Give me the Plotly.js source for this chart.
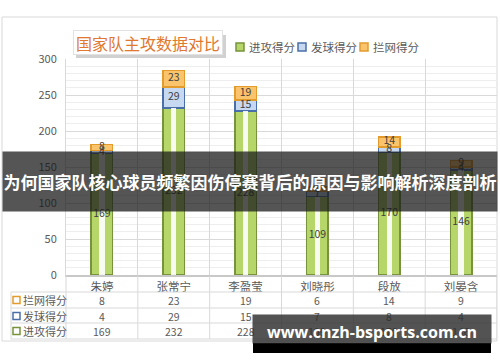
<!DOCTYPE html>
<html>
<head>
<meta charset="utf-8">
<script src="https://cdn.plot.ly/plotly-3.0.1.min.js"></script>
<style>html,body{margin:0;padding:0;background:#fff;}#chart{width:500px;height:362px;}</style>
</head>
<body>
<div id="chart"></div>
<script>
// ---- data ----
const players = ['朱婷', '张常宁', '李盈莹', '刘晓彤', '段放', '刘晏含'];
const attack = [169, 232, 228, 109, 170, 146];
const serve = [4, 29, 15, 7, 8, 4];
const block = [8, 23, 19, 6, 14, 9];
const seriesNames = ['进攻得分', '发球得分', '拦网得分'];
const chartTitle = '国家队主攻数据对比';
const bannerText = '为何国家队核心球员频繁因伤停赛背后的原因与影响解析深度剖析';
const watermarkText = 'www.cnzh-bsports.com.cn';
const yTicks = [0, 50, 100, 150, 200, 250, 300];

// ---- styles ----
const fills = ['#b7d66a', '#c6d9f1', '#fac46d'];
const borders = ['#77933c', '#4a6fa8', '#e39b2c'];
const FONT = '"Noto Sans CJK SC", "Noto Sans", sans-serif';
const L = 66, T = 59, PW = 431, PH = 216;
const X = px => (px - L) / PW;
const Y = py => (T + PH - py) / PH;

const series = [attack, serve, block];
const traces = series.map((vals, k) => ({
  type: 'bar', name: seriesNames[k], x: players, y: vals,
  marker: {color: fills[k], line: {color: borders[k], width: 1.5}},
  hoverinfo: 'skip'
}));
// white highlight stripe on attack bars
traces.push({
  type: 'bar', x: players, y: attack, xaxis: 'x2', yaxis: 'y2', width: 0.075,
  marker: {color: 'rgba(255,255,255,0.9)', line: {width: 0}}, hoverinfo: 'skip', showlegend: false
});
// data labels
const lx = [], ly = [], lt = [];
players.forEach((p, i) => {
  let base = 0;
  series.forEach(vals => {
    lx.push(p); ly.push(base + vals[i] / 2); lt.push(String(vals[i]));
    base += vals[i];
  });
});
traces.push({
  type: 'scatter', mode: 'text', x: lx, y: ly, text: lt, xaxis: 'x2', yaxis: 'y2',
  textfont: {family: FONT, size: 10.5, color: '#404040'}, cliponaxis: false, hoverinfo: 'skip', showlegend: false
});

const shapes = [];
const annotations = [];
// outer frame
shapes.push({type: 'rect', xref: 'paper', yref: 'paper', x0: X(2), x1: X(497), y0: Y(17), y1: Y(341),
  line: {color: '#d9d9d9', width: 1}, layer: 'below'});
// title shadow
shapes.push({type: 'rect', xref: 'paper', yref: 'paper', x0: X(76), x1: X(226), y0: Y(35), y1: Y(58),
  fillcolor: 'rgba(0,0,0,0.18)', line: {width: 0}});
// table grid
[292, 308, 323, 339].forEach(py => shapes.push({type: 'line', xref: 'paper', yref: 'paper',
  x0: X(11), x1: X(497), y0: Y(py), y1: Y(py), line: {color: '#d9d9d9', width: 1}}));
shapes.push({type: 'line', xref: 'paper', yref: 'paper', x0: X(11), x1: X(11), y0: Y(292), y1: Y(339),
  line: {color: '#d9d9d9', width: 1}});
shapes.push({type: 'line', xref: 'paper', yref: 'paper', x0: 0, x1: 0, y0: Y(275), y1: Y(339),
  line: {color: '#d9d9d9', width: 1}});
players.forEach((p, i) => shapes.push({type: 'line', xref: 'x', yref: 'paper', x0: i + 0.5, x1: i + 0.5,
  y0: Y(276), y1: Y(339), line: {color: '#d9d9d9', width: 1}}));

// title
annotations.push({text: chartTitle, xref: 'paper', yref: 'paper', x: X(148), y: Y(43),
  xanchor: 'center', yanchor: 'middle', showarrow: false, width: 146, height: 21, borderpad: 1,
  bgcolor: '#ffffff', bordercolor: '#e2e2e2', borderwidth: 1,
  font: {family: FONT, size: 16, color: '#e0782f'}});

// custom legend
const legX = [240, 302, 364];
seriesNames.forEach((n, k) => {
  shapes.push({type: 'rect', xref: 'paper', yref: 'paper', x0: X(legX[k] - 4), x1: X(legX[k] + 4),
    y0: Y(43), y1: Y(51), fillcolor: fills[k], line: {color: borders[k], width: 1.5}});
  annotations.push({text: n, xref: 'paper', yref: 'paper', x: X(legX[k] + 7), y: Y(47),
    xanchor: 'left', yanchor: 'middle', showarrow: false,
    font: {family: FONT, size: 11.5, color: '#595959'}});
});

// table rows (top to bottom: block, serve, attack)
const rowY = [300, 316, 331];
const rowSeries = [2, 1, 0];
rowSeries.forEach((k, r) => {
  shapes.push({type: 'rect', xref: 'paper', yref: 'paper', x0: X(13), x1: X(20),
    y0: Y(rowY[r] - 3.5), y1: Y(rowY[r] + 3.5), fillcolor: '#ffffff', line: {color: borders[k], width: 1.5}});
  annotations.push({text: seriesNames[k], xref: 'paper', yref: 'paper', x: X(21), y: Y(rowY[r]),
    xanchor: 'left', yanchor: 'middle', showarrow: false,
    font: {family: FONT, size: 11, color: '#595959'}});
  players.forEach((p, i) => annotations.push({text: String(series[k][i]), xref: 'x', yref: 'paper',
    x: p, y: Y(rowY[r]), xanchor: 'center', yanchor: 'middle', showarrow: false,
    font: {family: FONT, size: 10.5, color: '#595959'}}));
});

// banner overlay
annotations.push({text: '<b>' + bannerText + '</b>', xref: 'paper', yref: 'paper', x: X(250), y: Y(181.5),
  xanchor: 'center', yanchor: 'middle', showarrow: false, width: 494, height: 59, borderpad: 0,
  bgcolor: 'rgba(25,25,25,0.74)', font: {family: FONT, size: 17, color: '#ffffff'}});
// watermark
shapes.push({type: 'rect', xref: 'paper', yref: 'paper', x0: X(253), x1: X(491), y0: Y(343), y1: Y(353),
  fillcolor: '#000000', line: {width: 0}, layer: 'above'});
annotations.push({text: '<b>' + watermarkText + '</b>', xref: 'paper', yref: 'paper', x: X(372), y: Y(329),
  xanchor: 'center', yanchor: 'middle', showarrow: false, width: 238, height: 28, borderpad: 0, valign: 'bottom',
  bgcolor: 'rgba(45,45,45,0.82)', font: {family: '"Open Sans", sans-serif', size: 16, color: '#ffffff'}});

const layout = {
  width: 500, height: 362, margin: {l: L, r: 500 - L - PW, t: T, b: 362 - T - PH},
  paper_bgcolor: '#ffffff', plot_bgcolor: '#ffffff',
  barmode: 'stack', bargap: 0.7, showlegend: false,
  font: {family: FONT, color: '#595959'},
  xaxis: {type: 'category', range: [-0.5, 5.5], tickson: 'boundaries', showgrid: true, gridcolor: '#d9d9d9',
    ticks: '', showline: true, linecolor: '#c8c8c8', linewidth: 2, zeroline: false,
    tickfont: {family: FONT, size: 11.5, color: '#595959'}, fixedrange: true},
  yaxis: {range: [0, 300], tickvals: yTicks, showgrid: true, gridcolor: '#d9d9d9',
    minor: {dtick: 10, showgrid: true, gridcolor: '#eeeeee'}, zeroline: false,
    showline: true, linecolor: '#d9d9d9', ticks: '', ticklabelstandoff: 6,
    tickfont: {family: FONT, size: 11, color: '#595959'}, fixedrange: true},
  xaxis2: {type: 'category', overlaying: 'x', anchor: 'y2', range: [-0.5, 5.5], visible: false, fixedrange: true},
  yaxis2: {overlaying: 'y', anchor: 'x2', range: [0, 300], visible: false, fixedrange: true},
  shapes: shapes, annotations: annotations
};
Plotly.newPlot('chart', traces, layout, {displayModeBar: false, staticPlot: true});
</script>
</body>
</html>
